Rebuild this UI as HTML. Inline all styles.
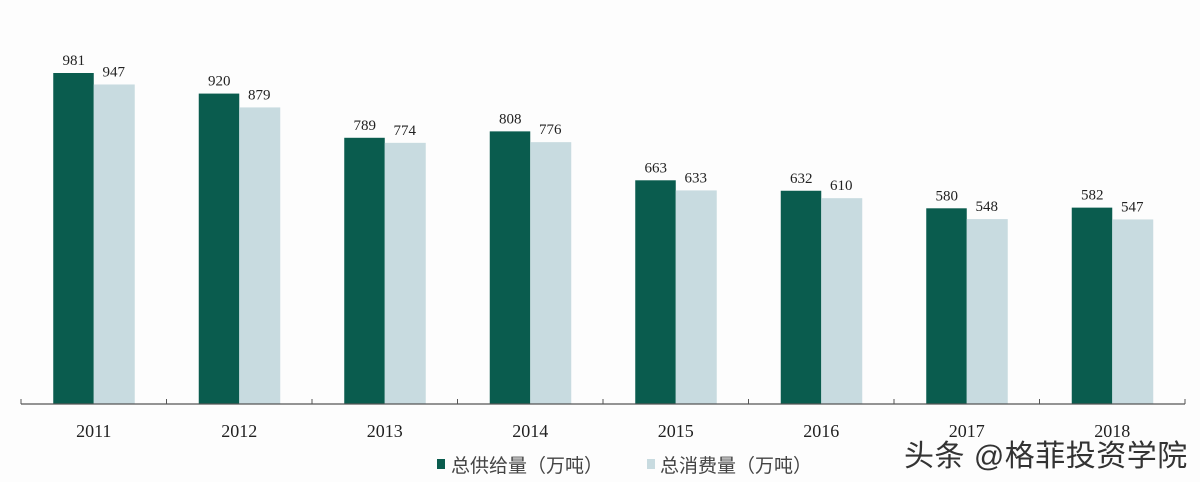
<!DOCTYPE html>
<html><head><meta charset="utf-8"><style>
body{margin:0;background:#fdfdfd;}
svg{display:block}
</style></head><body>
<svg width="1200" height="482" viewBox="0 0 1200 482">
<rect x="0" y="0" width="1200" height="482" fill="#fdfdfd"/>
<g id="bars"></g>
<g id="axis"></g>
<g>
<rect x="437" y="459" width="8" height="10" fill="#0a5c4e"/>
<text x="451" y="472" font-family="Liberation Sans, Noto Sans CJK SC, sans-serif" font-size="19" fill="#444">总供给量（万吨）</text>
<rect x="647" y="459" width="8" height="10" fill="#c8dbe0"/>
<text x="660" y="472" font-family="Liberation Sans, Noto Sans CJK SC, sans-serif" font-size="19" fill="#444">总消费量（万吨）</text>
</g>
<text x="904" y="466" font-family="Liberation Sans, Noto Sans CJK SC, sans-serif" font-size="30" fill="#333" letter-spacing="0.5">头条 @格菲投资学院</text>
</svg>
<script>
const categories=["2011","2012","2013","2014","2015","2016","2017","2018"];
const supply=[981,920,789,808,663,632,580,582];
const consumption=[947,879,774,776,633,610,548,547];
const NS="http://www.w3.org/2000/svg";
const x0=21,band=145.5,baseY=404,scale=331/981;
const y=v=>baseY-v*scale;
const bars=document.getElementById('bars'),axis=document.getElementById('axis');
function mk(t,a,p){const e=document.createElementNS(NS,t);for(const k in a)e.setAttribute(k,a[k]);p.appendChild(e);return e;}
categories.forEach((c,i)=>{
  const cx=x0+band*(i+0.5);
  const s=mk('rect',{x:cx-40.5,y:y(supply[i]),width:40.5,height:supply[i]*scale,fill:'#0a5c4e'},bars);
  
  
  const k=mk('rect',{x:cx,y:y(consumption[i]),width:41,height:consumption[i]*scale,fill:'#c8dbe0'},bars);
  
  
  const t1=mk('text',{x:cx-20,y:y(supply[i])-8,'text-anchor':'middle','font-family':'Liberation Serif, serif','font-size':15,fill:'#222'},bars);
  t1.textContent=supply[i];
  
  
  const t2=mk('text',{x:cx+20,y:y(consumption[i])-8,'text-anchor':'middle','font-family':'Liberation Serif, serif','font-size':15,fill:'#222'},bars);
  t2.textContent=consumption[i];
  
  
  const l=mk('text',{x:cx,y:437,'text-anchor':'middle','font-family':'Liberation Serif, serif','font-size':18,fill:'#222'},axis);
  l.textContent=c;
  
  
});
const line=mk('line',{x1:x0,x2:x0+band*categories.length,y1:baseY,y2:baseY,stroke:'#555','stroke-width':1.2},axis);


for(let i=0;i<=categories.length;i++){
  const tk=mk('line',{x1:x0+band*i,x2:x0+band*i,y1:baseY-5,y2:baseY,stroke:'#555','stroke-width':1},axis);
  
  
}
</script>
</body></html>
